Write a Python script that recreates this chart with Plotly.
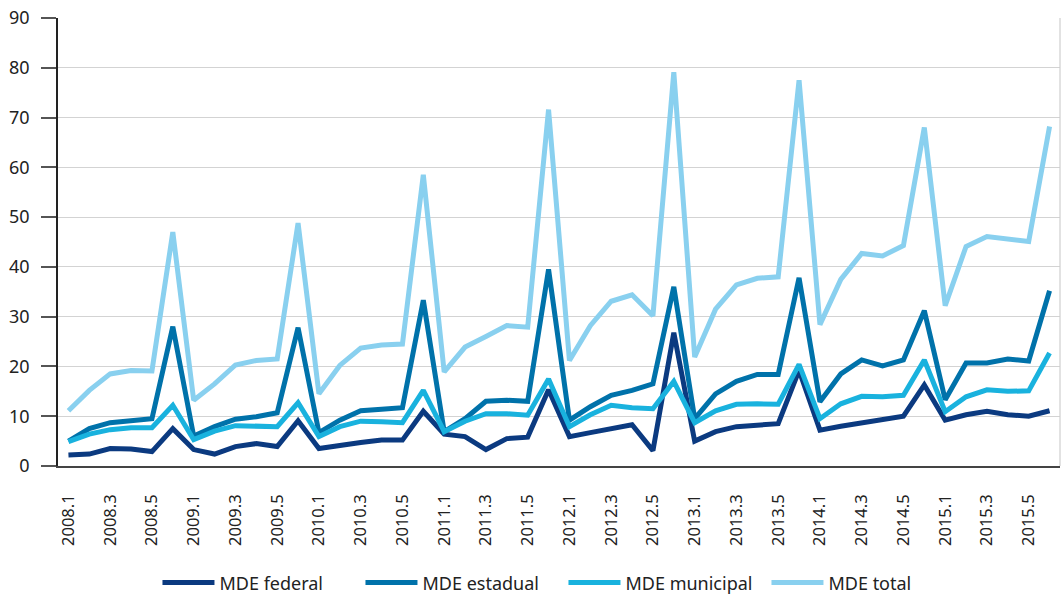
import plotly.graph_objects as go

years = list(range(2008, 2016))
periods = [f"{y}.{p}" for y in years for p in range(1, 7)]
tick_labels = periods[::2]

mde_federal = [2.2, 2.4, 3.5, 3.4, 2.9, 7.5,
               3.3, 2.4, 3.9, 4.5, 3.9, 9.1,
               3.5, 4.2, 4.7, 5.2, 5.2, 11.0,
               6.4, 5.9, 3.3, 5.5, 5.8, 15.3,
               5.9, 6.7, 7.5, 8.3, 3.1, 26.8,
               5.0, 6.9, 7.9, 8.1, 8.5, 19.2,
               7.2, 8.0, 8.7, 9.5, 10.0, 16.3,
               9.2, 10.3, 11.0, 10.3, 10.0, 11.1]

mde_estadual = [5.0, 7.5, 8.7, 9.2, 9.5, 28.0,
                6.0, 7.9, 9.4, 9.9, 10.7, 27.8,
                6.7, 9.2, 11.1, 11.4, 11.7, 33.3,
                6.9, 9.5, 13.0, 13.2, 13.0, 39.5,
                9.2, 11.9, 14.2, 15.2, 16.5, 36.0,
                9.5, 14.5, 17.0, 18.4, 18.4, 37.8,
                12.9, 18.5, 21.3, 20.1, 21.3, 31.2,
                13.3, 20.7, 20.7, 21.5, 21.1, 35.2]

mde_municipal = [4.9, 6.4, 7.3, 7.7, 7.7, 12.2,
                 5.3, 7.0, 8.1, 7.9, 7.9, 12.7,
                 5.9, 7.9, 9.0, 8.9, 8.7, 15.2,
                 6.9, 9.0, 10.5, 10.5, 10.2, 17.5,
                 7.9, 10.3, 12.2, 11.7, 11.5, 17.0,
                 8.7, 11.1, 12.4, 12.5, 12.4, 20.4,
                 9.5, 12.5, 14.0, 13.9, 14.2, 21.3,
                 10.9, 13.9, 15.3, 15.0, 15.1, 22.7]

mde_total = [11.1, 15.2, 18.5, 19.2, 19.1, 47.0,
             13.2, 16.5, 20.3, 21.2, 21.5, 48.8,
             14.5, 20.2, 23.7, 24.3, 24.5, 58.5,
             18.9, 23.9, 26.0, 28.2, 27.9, 71.6,
             21.2, 28.2, 33.1, 34.4, 30.2, 79.1,
             21.9, 31.5, 36.4, 37.7, 38.0, 77.5,
             28.4, 37.5, 42.7, 42.2, 44.3, 68.0,
             32.2, 44.1, 46.1, 45.7, 45.1, 68.2]

series = [
    ("MDE federal", mde_federal, "#0b3a80"),
    ("MDE estadual", mde_estadual, "#0072aa"),
    ("MDE municipal", mde_municipal, "#19b2de"),
    ("MDE total", mde_total, "#89d0ef"),
]

fig = go.Figure()
for name, vals, color in series:
    fig.add_trace(go.Scatter(
        x=periods, y=vals, name=name, mode="lines",
        line=dict(color=color, width=5),
    ))

font_family = "Noto Sans, Open Sans, DejaVu Sans, sans-serif"

fig.update_layout(
    width=1064, height=596,
    margin=dict(l=58, r=4, t=18, b=130),
    paper_bgcolor="white", plot_bgcolor="white",
    font=dict(family=font_family, color="#222222", size=18),
    showlegend=True,
    legend=dict(
        orientation="h", xref="container", yref="container",
        x=0.148, xanchor="left", y=0.022, yanchor="middle",
        font=dict(size=18, color="#222222"), itemwidth=52,
        entrywidth=136, entrywidthmode="pixels",
        traceorder="normal",
    ),
    xaxis=dict(
        type="category", categoryorder="array", categoryarray=periods,
        range=[-0.5, len(periods) - 0.5],
        tickmode="array", tickvals=tick_labels, ticktext=tick_labels,
        tickangle=-90, tickfont=dict(size=16.5, color="#222222"),
        showgrid=False, showline=True, linecolor="#444444", linewidth=1.5,
        ticks="", ticklabelstandoff=20, zeroline=False, automargin=False,
    ),
    yaxis=dict(
        range=[0, 90], dtick=10, tick0=0,
        showgrid=True, gridcolor="#d3d3d3", gridwidth=1.2,
        showline=True, linecolor="#222222", linewidth=1.5,
        ticks="outside", ticklen=15, tickcolor="#555555", tickwidth=1.5,
        tickfont=dict(size=18, color="#222222"), ticklabelstandoff=8,
        zeroline=False, automargin=False,
    ),
    shapes=[dict(type="line", xref="paper", yref="paper", x0=1, x1=1, y0=0, y1=1,
                 line=dict(color="#cfcfcf", width=1.2))],
)

fig.write_html("out.html", config={"displayModeBar": False},
               post_script="document.body.style.margin='0';")
